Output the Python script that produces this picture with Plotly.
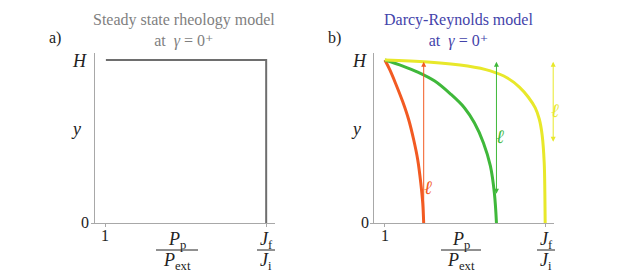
import plotly.graph_objects as go

# ---- data ----
steady_x = [1.0, 2.0, 2.0]
steady_y = [1.0, 1.0, 0.0]

red_x = [1.0, 1.031, 1.068, 1.112, 1.149, 1.180, 1.205, 1.224, 1.236, 1.242]
red_y = [1.0, 0.939, 0.853, 0.742, 0.632, 0.509, 0.387, 0.245, 0.123, 0.0]

green_x = [1.0, 1.112, 1.205, 1.311, 1.410, 1.497, 1.559, 1.615, 1.658, 1.683, 1.696]
green_y = [1.0, 0.963, 0.926, 0.871, 0.791, 0.706, 0.613, 0.491, 0.350, 0.184, 0.0]

yellow_x = [1.0, 1.267, 1.516, 1.658, 1.764, 1.839, 1.894, 1.938, 1.963, 1.981, 1.994, 1.998, 2.0]
yellow_y = [1.0, 0.988, 0.963, 0.933, 0.890, 0.834, 0.773, 0.706, 0.638, 0.540, 0.368, 0.184, 0.0]

# arrows: (x, y_start, y_end)
red_arrow = (1.242, 0.0, 0.99)
green_arrow = (1.696, 0.17, 0.99)
yellow_arrow = (2.05, 0.49, 0.99)

x_tickvals = [1, 2]
y_tickvals = [0, 1]
y_ticktext = ["0", "<i>H</i>"]

GRAY = "#6e6e6e"
AXIS = "#a8a8a8"
RED = "#f25a22"
GREEN = "#3fb83a"
YELLOW = "#e8e82a"
BLUE = "#4343aa"
TITLE_GRAY = "#7f7f7f"
FONT = "Liberation Serif, DejaVu Serif, Times New Roman, serif"

fig = go.Figure()
fig.add_trace(go.Scatter(x=steady_x, y=steady_y, mode="lines",
                         line=dict(color=GRAY, width=2), xaxis="x", yaxis="y"))
fig.add_trace(go.Scatter(x=red_x, y=red_y, mode="lines", line_shape="spline",
                         line=dict(color=RED, width=3, smoothing=1), xaxis="x2", yaxis="y2"))
fig.add_trace(go.Scatter(x=green_x, y=green_y, mode="lines", line_shape="spline",
                         line=dict(color=GREEN, width=3, smoothing=1), xaxis="x2", yaxis="y2"))
fig.add_trace(go.Scatter(x=yellow_x, y=yellow_y, mode="lines", line_shape="spline",
                         line=dict(color=YELLOW, width=3, smoothing=1), xaxis="x2", yaxis="y2"))

xr = [0.932, 2.055]
yr = [0, 1.043]
axis_common = dict(range=xr, showgrid=False, zeroline=False, showline=True,
                   linecolor=AXIS, linewidth=1, ticks="outside", ticklen=3,
                   tickcolor=AXIS, tickvals=x_tickvals, showticklabels=False)
yaxis_common = dict(range=yr, showgrid=False, zeroline=False, showline=True,
                    linecolor=AXIS, linewidth=1, ticks="outside", ticklen=3,
                    tickcolor=AXIS, tickvals=[0], showticklabels=False)

fig.update_layout(
    width=627, height=274, margin=dict(l=0, r=0, t=0, b=0),
    paper_bgcolor="white", plot_bgcolor="white", showlegend=False,
    font=dict(family=FONT),
    xaxis=dict(domain=[87/627, 267/627], anchor="y", **axis_common),
    yaxis=dict(domain=[1-215/274, 1-45/274], anchor="x", **yaxis_common),
    xaxis2=dict(domain=[366/627, 546/627], anchor="y2", **axis_common),
    yaxis2=dict(domain=[1-215/274, 1-45/274], anchor="x2", **yaxis_common),
)

def px(x, y, text, color="#222", size=16, xanchor="center"):
    fig.add_annotation(x=x/627, y=1-y/274, xref="paper", yref="paper", text=text,
                       showarrow=False, xanchor=xanchor, yanchor="middle",
                       font=dict(family=FONT, size=size, color=color))

# titles
px(176, 23, "Steady state rheology model<br>at  <i>γ</i> = 0⁺", TITLE_GRAY, 16)
px(450, 23, "Darcy-Reynolds model<br>at  <i>γ</i> = 0⁺", BLUE, 16)
px(47, 30, "a)")
px(327, 30, "b)")

# axis tick labels (placed from axis geometry in pixels)
for xo in [0, 280]:
    px(68 + xo, 121, "<i>y</i>", size=18)
    px(71 + xo, 53, y_ticktext[1], size=18)
    px(77 + xo, 214, y_ticktext[0], size=16)
    px(97 + xo, 227, "1", size=16)

# fractions
for cx, bx0, bx1 in [(169, 148, 190), (453, 433, 473)]:
    px(cx, 232, "<i>P</i><sub>p</sub>", size=18)
    px(cx, 253, "<i>P</i><sub>ext</sub>", size=18)
    fig.add_shape(type="line", xref="paper", yref="paper", x0=bx0/627, x1=bx1/627,
                  y0=1-242/274, y1=1-242/274, line=dict(color="#222", width=1))
for cx in [258, 538]:
    px(cx, 232, "<i>J</i><sub>f</sub>", size=18)
    px(cx, 253, "<i>J</i><sub>i</sub>", size=18)
    fig.add_shape(type="line", xref="paper", yref="paper", x0=(cx-9)/627, x1=(cx+9)/627,
                  y0=1-242/274, y1=1-242/274, line=dict(color="#222", width=1))

# arrows
def arrow(a, color, double):
    x, y0, y1 = a
    fig.add_annotation(x=x, y=y1, ax=x, ay=y0, xref="x2", yref="y2", axref="x2", ayref="y2",
                       showarrow=True, arrowhead=2, arrowsize=1, arrowwidth=1,
                       arrowcolor=color, arrowside="end+start" if double else "end", text="")

arrow(red_arrow, RED, False)
arrow(green_arrow, GREEN, True)
arrow(yellow_arrow, YELLOW, True)

def ell(x, y, color):
    fig.add_annotation(x=x/627, y=1-y/274, xref="paper", yref="paper", text="<i>ℓ</i>",
                       showarrow=False, font=dict(family=FONT, size=19, color=color))

ell(426, 179, RED)
ell(498, 128, GREEN)
ell(553, 90, YELLOW)

fig.write_html("out.html")
